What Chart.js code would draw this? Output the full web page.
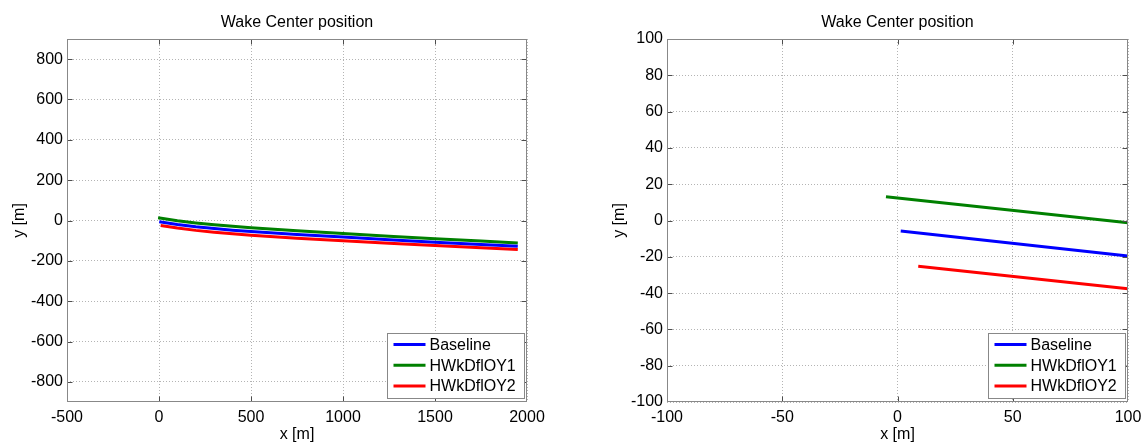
<!DOCTYPE html>
<html>
<head>
<meta charset="utf-8">
<title>Wake Center position</title>
<script src="https://cdn.jsdelivr.net/npm/chart.js@4.4.0/dist/chart.umd.min.js"></script>
<style>
  html, body { margin: 0; padding: 0; background: #fff; }
  #wrap { position: relative; width: 1148px; height: 444px; }
  canvas { position: absolute; top: 0; }
  #full { left: 0; }
  #zoom { left: 574px; }
</style>
</head>
<body>
<div id="wrap">
  <canvas id="full" width="574" height="444"></canvas>
  <canvas id="zoom" width="574" height="444"></canvas>
</div>
<script>
// wake centre track: downstream distance x [m] vs lateral offset y [m]
const seriesNames = ['Baseline', 'HWkDflOY1', 'HWkDflOY2'];
const seriesColors = ['#0000ff', '#008000', '#ff0000'];

const baselineX = [1.4, 100, 200, 300, 400, 500, 750, 1000, 1250, 1500, 1750, 1950];
const baselineY = [-5.8, -19.6, -31, -40, -48, -55, -69, -82, -95, -108, -119, -128];

const oy1X = [-5, 100, 200, 300, 400, 500, 750, 1000, 1250, 1500, 1750, 1950];
const oy1Y = [13.1, -1.2, -12, -21, -29, -36, -51, -65, -78, -91, -102, -112];

const oy2X = [9, 100, 200, 300, 400, 500, 750, 1000, 1250, 1500, 1750, 1950];
const oy2Y = [-25.2, -37.6, -49, -58, -66, -73, -88, -101, -113, -124, -135, -144];

// tick values for the full view and the near-rotor view
const fullXTicks = [-500, 0, 500, 1000, 1500, 2000];
const fullYTicks = [-800, -600, -400, -200, 0, 200, 400, 600, 800];
const zoomXTicks = [-100, -50, 0, 50, 100];
const zoomYTicks = [-100, -80, -60, -40, -20, 0, 20, 40, 60, 80, 100];

const FONT = '"Liberation Sans", Arial, Helvetica, sans-serif';
Chart.defaults.font.family = FONT;
Chart.defaults.color = '#000';

function toPoints(xs, ys) {
    return xs.map((x, i) => ({ x: x, y: ys[i] }));
}

function buildDatasets() {
    const cols = [[baselineX, baselineY], [oy1X, oy1Y], [oy2X, oy2Y]];
    return cols.map((c, i) => ({
        label: seriesNames[i],
        data: toPoints(c[0], c[1]),
        borderColor: seriesColors[i],
        backgroundColor: seriesColors[i],
        borderWidth: 3,
        pointRadius: 0,
        showLine: true,
        tension: 0,
        clip: 0
    }));
}

// box around the axes, inward tick marks and the legend inside the plot
const axesBox = {
    id: 'axesBox',
    afterDatasetsDraw(chart) {
        const { ctx, chartArea: a, scales } = chart;
        const l = Math.round(a.left) + 0.5, r = Math.round(a.right) - 0.5;
        const t = Math.round(a.top) + 0.5, b = Math.round(a.bottom) - 0.5;
        const clamp = (v, lo, hi) => Math.min(hi, Math.max(lo, v));
        ctx.save();
        ctx.strokeStyle = '#4d4d4d';
        ctx.lineWidth = 1;
        ctx.beginPath();
        scales.x.ticks.forEach(tk => {
            const px = clamp(Math.round(scales.x.getPixelForValue(tk.value)) + 0.5, l, r);
            ctx.moveTo(px, b); ctx.lineTo(px, b - 5);
            ctx.moveTo(px, t); ctx.lineTo(px, t + 5);
        });
        scales.y.ticks.forEach(tk => {
            const py = clamp(Math.round(scales.y.getPixelForValue(tk.value)) + 0.5, t, b);
            ctx.moveTo(l, py); ctx.lineTo(l + 5, py);
            ctx.moveTo(r, py); ctx.lineTo(r - 5, py);
        });
        ctx.stroke();
        ctx.strokeStyle = '#888';
        ctx.strokeRect(l, t, r - l, b - t);
        ctx.restore();
    },
    afterDraw(chart) {
        const { ctx, chartArea: a } = chart;
        const w = 137, h = 65;
        const x0 = Math.round(a.right - 3 - w) + 0.5;
        const y0 = Math.round(a.bottom - 4 - h) + 0.5;
        ctx.save();
        ctx.fillStyle = '#fff';
        ctx.fillRect(x0, y0, w, h);
        ctx.strokeStyle = '#888';
        ctx.lineWidth = 1;
        ctx.strokeRect(x0, y0, w, h);
        ctx.font = '16px ' + FONT;
        ctx.textBaseline = 'middle';
        ctx.textAlign = 'left';
        chart.data.datasets.forEach((ds, i) => {
            const yy = y0 + 11 + i * 20.7;
            ctx.strokeStyle = ds.borderColor;
            ctx.lineWidth = 3;
            ctx.beginPath();
            ctx.moveTo(x0 + 6, yy);
            ctx.lineTo(x0 + 38, yy);
            ctx.stroke();
            ctx.fillStyle = '#000';
            ctx.fillText(ds.label, x0 + 42, yy + 1);
        });
        ctx.restore();
    }
};

function makeChart(id, xr, yr, xTicks, yTicks, padLeft, padRight) {
    const tickFont = { size: 16 };
    const titleFont = { size: 16, lineHeight: 1 };
    const plain = v => String(v);
    return new Chart(document.getElementById(id), {
        type: 'scatter',
        data: { datasets: buildDatasets() },
        options: {
            responsive: false,
            animation: false,
            devicePixelRatio: 1,
            layout: { padding: { left: padLeft, right: padRight, top: 0, bottom: 0 } },
            plugins: {
                legend: { display: false },
                tooltip: { enabled: false },
                title: {
                    display: true,
                    text: 'Wake Center position',
                    fullSize: false,
                    color: '#000',
                    font: { size: 16, weight: 'normal', lineHeight: 1.2 },
                    padding: { top: 13, bottom: 6.8 }
                }
            },
            scales: {
                x: {
                    type: 'linear',
                    min: xr[0], max: xr[1],
                    afterBuildTicks: s => { s.ticks = xTicks.map(v => ({ value: v })); },
                    afterFit: s => { s.height = 42; },
                    grid: { color: '#b4b4b4', lineWidth: 1, drawTicks: false },
                    border: { display: false, dash: [1, 2] },
                    ticks: { font: tickFont, color: '#000', padding: 6, autoSkip: false, maxRotation: 0, callback: plain },
                    title: { display: true, text: 'x [m]', color: '#000', font: titleFont, padding: { top: 0, bottom: 1 } }
                },
                y: {
                    type: 'linear',
                    min: yr[0], max: yr[1],
                    afterBuildTicks: s => { s.ticks = yTicks.map(v => ({ value: v })); },
                    afterFit: s => { s.width = 67; },
                    grid: { color: '#b4b4b4', lineWidth: 1, drawTicks: false },
                    border: { display: false, dash: [1, 2] },
                    ticks: { font: tickFont, color: '#000', padding: 4, autoSkip: false, callback: plain },
                    title: { display: true, text: 'y [m]', color: '#000', font: titleFont, padding: { top: 11.5, bottom: 0 } }
                }
            }
        },
        plugins: [axesBox]
    });
}

makeChart('full', [-500, 2000], [-900, 900], fullXTicks, fullYTicks, 0, 47);
makeChart('zoom', [-100, 100], [-100, 100], zoomXTicks, zoomYTicks, 26, 20);
</script>
</body>
</html>
